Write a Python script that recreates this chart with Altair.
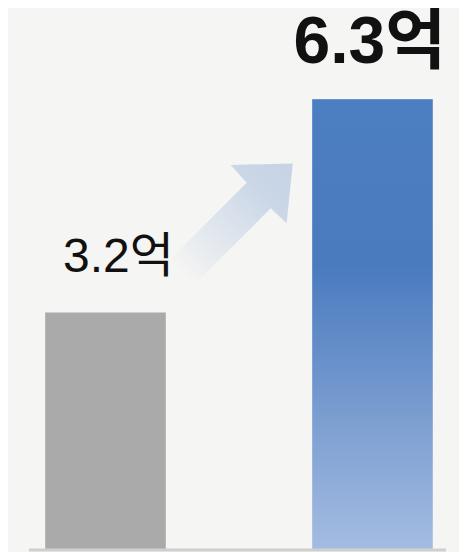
import altair as alt
import pandas as pd

# data
categories = ["이전", "이후"]
bar_values = [3.32, 6.3]
labels = ["3.2억", "6.3억"]

df = pd.DataFrame({"cat": categories, "value": bar_values, "label": labels})

FONT = "Liberation Sans, Noto Sans CJK KR, sans-serif"
BG = "#f5f5f3"

x_enc = alt.X("cat:N", axis=None,
              scale=alt.Scale(domain=categories, paddingInner=0.5468,
                              paddingOuter=0.118, align=0.587))
y_enc = alt.Y("value:Q", axis=None, scale=alt.Scale(domain=[0, 7.571], nice=False, zero=True))

base = alt.Chart(df).encode(x=x_enc, y=y_enc)

gray_bar = base.transform_filter(alt.datum.cat == categories[0]).mark_bar(
    color="#aaaaaa", stroke="#ffffff", strokeOpacity=0.35, strokeWidth=1
)

blue_grad = alt.LinearGradient(
    gradient="linear",
    stops=[
        alt.GradientStop(color="#4c7ec2", offset=0),
        alt.GradientStop(color="#4a7bbf", offset=0.37),
        alt.GradientStop(color="#7a9dd0", offset=0.7),
        alt.GradientStop(color="#a4bce2", offset=1),
    ],
    x1=0, x2=0, y1=0, y2=1,
)
blue_bar = base.transform_filter(alt.datum.cat == categories[1]).mark_bar(
    color=blue_grad, stroke="#ffffff", strokeOpacity=0.35, strokeWidth=1
)

arrow_path = ("M1,-0.99 L0.9,0 L0.636,-0.248 L-0.603,0.992 L-1,0.569 "
              "L0.24,-0.671 L-0.025,-0.964 Z")
arrow_grad = alt.LinearGradient(
    gradient="linear",
    stops=[
        alt.GradientStop(color="rgba(205,217,233,0)", offset=0.08),
        alt.GradientStop(color="rgba(205,217,233,0.6)", offset=0.45),
        alt.GradientStop(color="rgba(200,213,230,0.95)", offset=0.75),
        alt.GradientStop(color="rgba(198,211,229,1)", offset=1),
    ],
    x1=0, y1=1, x2=1, y2=0,
)
arrow = alt.Chart(df).transform_filter(alt.datum.cat == categories[0]).mark_point(
    shape=arrow_path, size=14641, filled=True, opacity=1, color=arrow_grad, strokeWidth=0
).encode(x=alt.value(224.2), y=alt.value(215.3))

label_small = base.transform_filter(alt.datum.cat == categories[0]).mark_text(
    font=FONT, fontSize=48, fontWeight="normal", color="#111111",
    align="left", baseline="alphabetic", dx=-42.5, dy=-40
).encode(text="label:N")

label_big = base.transform_filter(alt.datum.cat == categories[1]).mark_text(
    font=FONT, fontSize=66, fontWeight="bold", color="#111111",
    align="left", baseline="alphabetic", dx=-79, dy=-36
).encode(text="label:N")

baseline = alt.Chart(df).transform_filter(alt.datum.cat == categories[0]).mark_rule(
    color="#cfcfcf", strokeWidth=3
).encode(x=alt.value(21), x2=alt.value(438), y=alt.value(542))

chart = alt.layer(
    arrow, gray_bar, blue_bar, baseline, label_small, label_big
).properties(
    width=451, height=542,
    padding={"left": 0, "right": 0, "top": 0, "bottom": 2},
    background=BG,
).configure_view(stroke=None)

chart.save("out.html", embed_options={"renderer": "svg", "actions": False})
